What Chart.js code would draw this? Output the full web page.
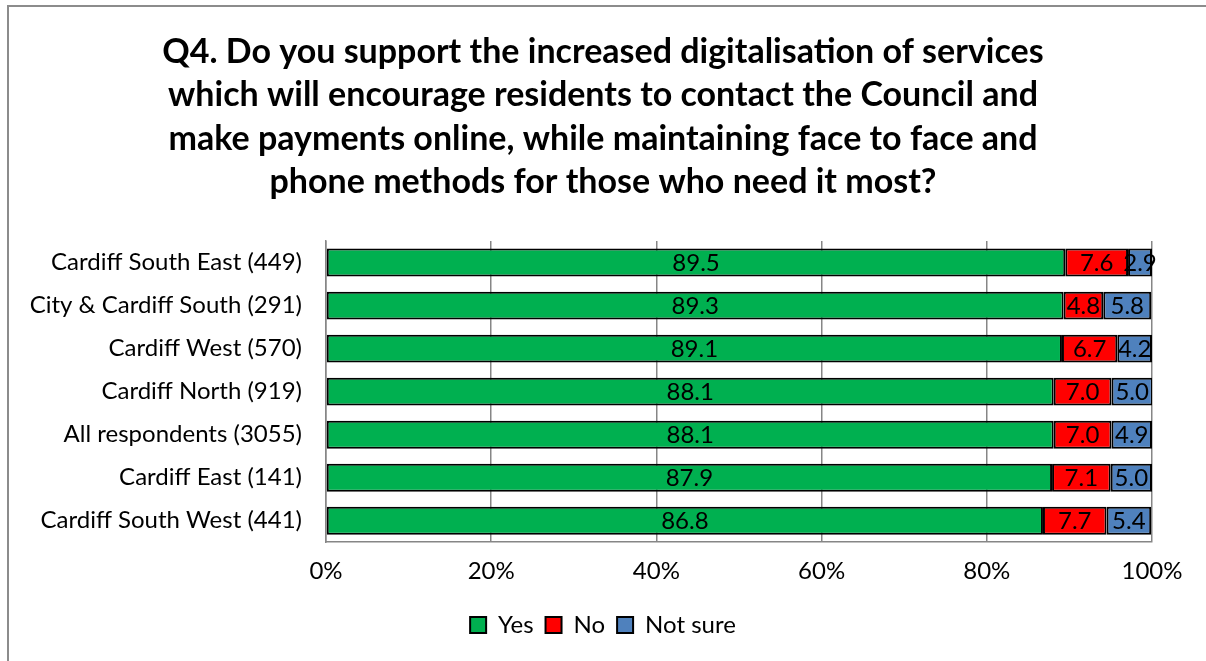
<!DOCTYPE html>
<html>
<head>
<meta charset="utf-8">
<script src="https://cdn.jsdelivr.net/npm/chart.js@4.4.0/dist/chart.umd.min.js"></script>
<style>
  html, body { margin: 0; padding: 0; background: #fff; overflow: hidden; }
  #wrap { width: 1206px; height: 661px; position: relative; }
</style>
</head>
<body>
<div id="wrap"><canvas id="q4Chart"></canvas></div>
<script>
// Q4 digitalisation of services - stacked bar by area

const areas = [
    'Cardiff South East (449)',
    'City & Cardiff South (291)',
    'Cardiff West (570)',
    'Cardiff North (919)',
    'All respondents (3055)',
    'Cardiff East (141)',
    'Cardiff South West (441)'
];
const yesValues = [89.5, 89.3, 89.1, 88.1, 88.1, 87.9, 86.8];
const noValues = [7.6, 4.8, 6.7, 7.0, 7.0, 7.1, 7.7];
const notSureValues = [2.9, 5.8, 4.2, 5.0, 4.9, 5.0, 5.4];
const xTicks = [0, 20, 40, 60, 80, 100];

const titleLines = [
    'Q4. Do you support the increased digitalisation of services',
    'which will encourage residents to contact the Council and',
    'make payments online, while maintaining face to face and',
    'phone methods for those who need it most?'
];

const FONT = 'Lato, "Open Sans", sans-serif';

// draws the value inside each segment
const valueLabels = {
    id: 'valueLabels',
    afterDatasetsDraw(chart) {
        const ctx = chart.ctx;
        ctx.save();
        ctx.fillStyle = '#000';
        ctx.font = '24px ' + FONT;
        ctx.textAlign = 'center';
        ctx.textBaseline = 'middle';
        chart.data.datasets.forEach((ds, i) => {
            const meta = chart.getDatasetMeta(i);
            meta.data.forEach((bar, j) => {
                const cx = (bar.x + bar.base) / 2;
                ctx.fillText(ds.data[j].toFixed(1), cx, bar.y + 1);
            });
        });
        ctx.restore();
    }
};

// grey frame lines, top and left only show in the crop
const frame = {
    id: 'frame',
    beforeDraw(chart) {
        const ctx = chart.ctx;
        ctx.save();
        ctx.fillStyle = '#fff';
        ctx.fillRect(0, 0, chart.width, chart.height);
        ctx.strokeStyle = '#8c8c8c';
        ctx.lineWidth = 2;
        ctx.beginPath();
        ctx.moveTo(8, chart.height);
        ctx.lineTo(8, 6);
        ctx.lineTo(chart.width, 6);
        ctx.stroke();
        ctx.restore();
    }
};

const ctx = document.getElementById('q4Chart').getContext('2d');
new Chart(ctx, {
    type: 'bar',
    data: {
        labels: areas,
        datasets: [
            { label: 'Yes', data: yesValues, backgroundColor: '#00B050' },
            { label: 'No', data: noValues, backgroundColor: '#FF0000' },
            { label: 'Not sure', data: notSureValues, backgroundColor: '#4F81BD' }
        ].map(d => Object.assign(d, {
            borderColor: '#000',
            borderWidth: 2,
            borderSkipped: false,
            barPercentage: 0.65,
            categoryPercentage: 1
        }))
    },
    options: {
        indexAxis: 'y',
        responsive: true,
        maintainAspectRatio: false,
        animation: false,
        layout: { padding: { left: 8, right: 8, top: 20, bottom: 14 } },
        scales: {
            x: {
                stacked: true,
                min: 0,
                max: 100,
                afterBuildTicks(scale) {
                    scale.ticks = xTicks.map(v => ({ value: v }));
                },
                ticks: {
                    color: '#000',
                    font: { family: FONT, size: 24 },
                    padding: 15,
                    callback: v => v + '%'
                },
                grid: { color: '#868686', lineWidth: 1.5, drawTicks: false },
                border: { color: '#868686', width: 1.5 }
            },
            y: {
                stacked: true,
                afterFit(scale) { scale.width = 318; },
                ticks: {
                    color: '#000',
                    font: { family: FONT, size: 24 },
                    padding: 24
                },
                grid: { display: false, drawTicks: false },
                border: { color: '#868686', width: 1.5 }
            },
            // empty spacer on the right so the title centres on the page
            spacer: {
                axis: 'y',
                position: 'right',
                afterFit(scale) { scale.width = 46; },
                ticks: { display: false },
                grid: { display: false, drawTicks: false },
                border: { display: false }
            }
        },
        plugins: {
            title: {
                display: true,
                text: titleLines,
                color: '#000',
                font: { family: FONT, size: 34, weight: 'bold', lineHeight: 1.28 },
                padding: { top: 10, bottom: 37 }
            },
            legend: {
                position: 'bottom',
                labels: {
                    color: '#000',
                    font: { family: FONT, size: 24 },
                    boxWidth: 16,
                    boxHeight: 16,
                    padding: 12
                }
            },
            tooltip: { enabled: false }
        }
    },
    plugins: [frame, valueLabels]
});
</script>
</body>
</html>
